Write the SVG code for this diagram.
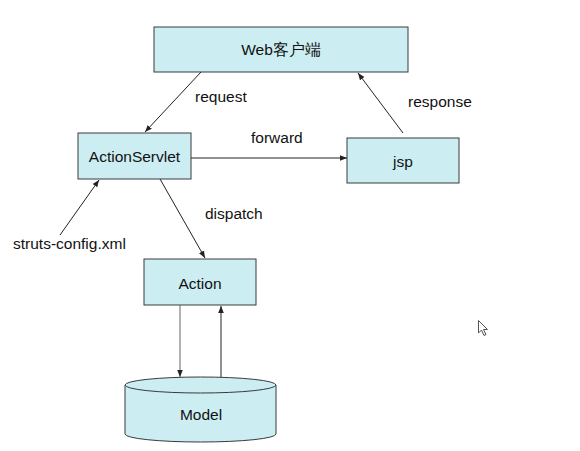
<svg xmlns="http://www.w3.org/2000/svg" width="580" height="451" viewBox="0 0 580 451">
<style>
.box{fill:#CCEEF2;stroke:#3a3a3a;stroke-width:1}
.t{font-family:"Liberation Sans",Arial,sans-serif;font-size:15.5px;fill:#111}
.c{text-anchor:middle}
.ln{stroke:#222;stroke-width:1;fill:none;marker-end:url(#ah)}
</style>
<defs>
<marker id="ah" viewBox="0 0 10 10" refX="10" refY="5" markerWidth="7" markerHeight="7" orient="auto" markerUnits="userSpaceOnUse">
<path d="M0,1 L10,5 L0,9 Z" fill="#222"/>
</marker>
</defs>
<rect width="580" height="451" fill="#fff"/>
<g id="web"><rect class="box" x="154" y="27" width="254" height="45"/><text class="t c" x="281" y="55">Web客户端</text></g>
<g id="servlet"><rect class="box" x="78" y="133" width="113" height="46"/><text class="t c" x="134.5" y="162">ActionServlet</text></g>
<g id="jsp"><rect class="box" x="347" y="138" width="112" height="45"/><text class="t c" x="403" y="167">jsp</text></g>
<g id="action"><rect class="box" x="144" y="259" width="112" height="46"/><text class="t c" x="200" y="289">Action</text></g>
<g id="model">
<path class="box" d="M125,385 L125,434 A75.5,8 0 0 0 276,434 L276,385"/>
<ellipse class="box" cx="200.5" cy="385" rx="75.5" ry="8"/>
<text class="t c" x="201" y="420">Model</text>
</g>
<g id="connectors">
<line class="ln" x1="201" y1="72" x2="145" y2="132"/>
<line class="ln" x1="403" y1="133" x2="358" y2="73"/>
<line class="ln" x1="191" y1="158" x2="347" y2="158"/>
<line class="ln" x1="60" y1="235" x2="99" y2="180"/>
<line class="ln" x1="160" y1="179" x2="205" y2="258"/>
<line class="ln" x1="180" y1="305" x2="180" y2="377" style="stroke:#666"/>
<line class="ln" x1="221" y1="377" x2="221" y2="306"/>
</g>
<g id="labels">
<text class="t" x="195" y="102">request</text>
<text class="t" x="408" y="107">response</text>
<text class="t" x="251" y="143">forward</text>
<text class="t" x="205" y="219">dispatch</text>
<text class="t" x="13" y="249">struts-config.xml</text>
</g>
<g id="cursor"><path d="M478.5,320.5 L478.5,333 L481.5,330 L484,335.5 L486,334.5 L483.5,329.5 L487.5,329.5 Z" fill="#fff" stroke="#555" stroke-width="1"/></g>
</svg>
